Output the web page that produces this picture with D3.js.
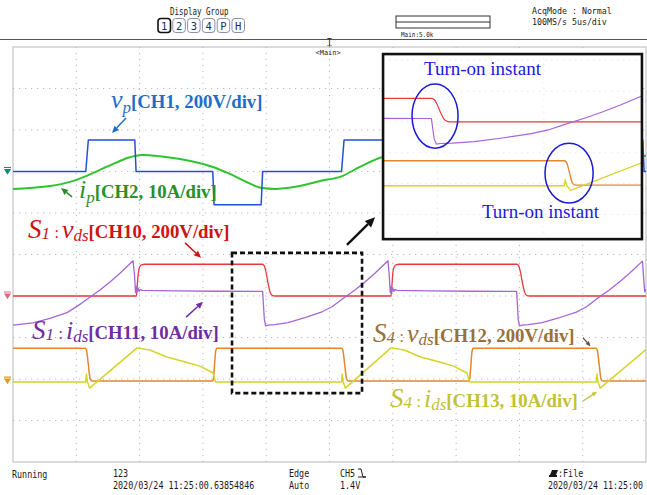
<!DOCTYPE html>
<html><head><meta charset="utf-8">
<script src="https://cdn.jsdelivr.net/npm/d3@7/dist/d3.min.js"></script>
<style>html,body{margin:0;padding:0;background:#fff;} svg{display:block;}</style>
</head><body>
<svg id="scope" width="647" height="495"></svg>
<script>
// ---- axis settings: 5 µs/div horizontally, 10 divisions vertically ----
const timeTicks = d3.range(0, 55, 5);          // µs
const divTicks = d3.range(-5, 6, 1);           // divisions

// ---- CH1 vp (V), 200 V/div ----
const vpTime = [0, 5.75, 5.95, 9.62, 9.72, 15.78, 15.88, 19.6, 19.72, 25.95, 26.15, 29.82, 29.92, 35.95, 36.05, 39.8, 39.92, 46.15, 46.35, 49.75, 49.85, 50];
const vpVolt = [0, 0, 152, 152, 0, 0, -160, -160, 0, 0, 152, 152, 0, 0, -160, -160, 0, 0, 152, 152, 0, 0];

// ---- CH2 ip (A), 10 A/div ----
const ipTime = [0, 1.34, 2.92, 4.5, 5.77, 6.87, 8.06, 9.08, 10.19, 11.6, 13.2, 14.77, 15.8, 17.0, 18.3, 19.67, 20.7, 22.3, 24.25, 26.0, 27.4, 29.2, 30.4, 32, 34, 36, 38, 39.9, 41, 43, 46.2, 48, 50];
const ipAmp  = [-4.2, -4.0, -3.5, -2.5, -1.1, 0.4, 2.0, 3.3, 4.0, 3.7, 3.0, 2.0, 1.1, -0.4, -2.3, -4.0, -4.2, -3.7, -2.3, -1.1, 1.1, 3.5, 4.0, 3.6, 2.9, 1.1, -2.0, -4.0, -4.2, -3.6, -1.1, 2.5, 3.8];

// ---- CH10 S1 vds (V), 200 V/div ----
const s1vTime = [0, 9.75, 9.8, 9.9, 10.0, 10.15, 10.4, 19.7, 19.85, 20.0, 20.15, 20.3, 20.5, 20.7, 29.85, 29.92, 30.0, 30.1, 30.25, 30.5, 39.8, 39.95, 40.1, 40.25, 40.4, 40.6, 40.8, 50];
const s1vVolt = [0, 0, 40, 110, 140, 150, 153, 153, 145, 110, 60, 20, 2, 0, 0, 40, 110, 140, 150, 153, 153, 145, 110, 60, 20, 2, 0, 0];

// ---- CH11 S1 ids (A), 10 A/div ----
const s1iTime = [0, 1.58, 2.92, 4.27, 5.06, 5.85, 6.87, 7.66, 8.45, 9.48, 9.6, 9.68, 9.74, 9.8, 9.88, 9.96, 10.05, 10.2, 13, 16, 19.72, 19.78, 19.85, 19.95, 20.14, 20.7, 21.72, 23.06, 24.41, 25.2, 25.99, 27.01, 27.8, 28.59, 29.62, 29.72, 29.8, 29.86, 29.92, 30.0, 30.08, 30.17, 30.3, 33, 36, 39.78, 39.84, 39.9, 40.0, 40.2, 40.7, 41.8, 43.1, 44.5, 45.3, 46.1, 47.1, 47.9, 48.7, 49.72, 49.82, 49.9, 50];
const s1iAmp  = [-7.0, -6.5, -5.4, -4.0, -2.5, -0.8, 1.45, 3.4, 5.5, 8.5, 5.0, 0.8, 2.3, 0.9, 1.9, 1.1, 1.6, 1.35, 1.25, 1.15, 1.1, -2.0, -5.5, -7.2, -7.0, -6.9, -6.4, -5.2, -3.8, -2.6, -0.8, 1.45, 3.4, 5.5, 8.5, 5.0, 0.8, 2.3, 0.9, 1.9, 1.1, 1.6, 1.35, 1.25, 1.15, 1.1, -2.0, -5.5, -7.2, -7.0, -6.9, -6.4, -5.3, -3.9, -2.6, -0.7, 1.45, 3.4, 5.5, 8.4, 4.0, 1.0, 1.6];

// ---- CH12 S4 vds (V), 200 V/div ----
const s4vTime = [0, 5.7, 5.8, 5.95, 6.1, 6.25, 15.8, 15.9, 16.0, 16.1, 25.95, 26.05, 26.2, 26.35, 26.5, 36.05, 36.15, 36.25, 36.35, 46.05, 46.15, 46.3, 46.45, 46.6, 50];
const s4vVolt = [158, 158, 150, 80, 10, 0, 0, 60, 140, 158, 158, 150, 80, 10, 0, 0, 60, 140, 158, 158, 150, 80, 10, 0, 0];

// ---- CH13 S4 ids (A), 10 A/div ----
const s4iTime = [0, 5.75, 5.8, 5.86, 6.05, 9.8, 10.8, 12.16, 13.6, 14.77, 15.8, 16.0, 25.95, 26.0, 26.06, 26.25, 29.86, 30.9, 32.2, 33.7, 34.8, 35.86, 36.06, 46.08, 46.13, 46.19, 46.38, 50];
const s4iAmp  = [-0.2, -0.2, 1.7, 0.0, -1.7, 8.0, 7.5, 5.8, 4.6, 3.6, 1.95, -0.2, -0.2, 1.7, 0.0, -1.7, 8.0, 7.5, 5.8, 4.6, 3.6, 1.95, -0.2, -0.2, 1.7, 0.0, -1.7, 7.6];

// ---- channel ground positions (div) ----
const groundDiv = {ch1: 2.0, ch10: -1.0, ch12: -3.05};

// ---- zoomed detail window ----
const zoomRegion = {t: [17.3, 27.57], div: [-3.34, 0.04]};
const insetView  = {t: [17.45, 29.6], div: [-4.8, 1.2]};
const insetBox   = {t: [29.23, 49.68], div: [0.37, 4.83]};

const svg = d3.select("#scope");
const W = 647;
const x = d3.scaleLinear().domain([0, 50]).range([13, 646]);
const y = d3.scaleLinear().domain([-5, 5]).range([462, 47]);

const traces = [
  {t: ipTime,  v: ipAmp,   perDiv: 10,  pos: groundDiv.ch1,  color: "#2fc42f", width: 2.0, curve: d3.curveMonotoneX},
  {t: vpTime,  v: vpVolt,  perDiv: 200, pos: groundDiv.ch1,  color: "#2350d8", width: 1.5, curve: d3.curveLinear},
  {t: s4vTime, v: s4vVolt, perDiv: 200, pos: groundDiv.ch12, color: "#e3862c", width: 1.5, curve: d3.curveMonotoneX},
  {t: s4iTime, v: s4iAmp,  perDiv: 10,  pos: groundDiv.ch12, color: "#d4d42a", width: 1.5, curve: d3.curveLinear},
  {t: s1vTime, v: s1vVolt, perDiv: 200, pos: groundDiv.ch10, color: "#e8383c", width: 1.3, curve: d3.curveMonotoneX},
  {t: s1iTime, v: s1iAmp,  perDiv: 10,  pos: groundDiv.ch10, color: "#a864d8", width: 1.3, curve: d3.curveLinear}
];

const defs = svg.append("defs");
defs.append("clipPath").attr("id", "plotClip").append("rect")
  .attr("x", x(0)).attr("y", y(5)).attr("width", x(50) - x(0)).attr("height", y(-5) - y(5));

function drawGrid(layer, xs, ys, color) {
  layer.selectAll("line.gv").data(timeTicks.slice(1, -1)).join("line").attr("class", "gv")
    .attr("x1", d => xs(d)).attr("x2", d => xs(d)).attr("y1", ys(-5)).attr("y2", ys(5))
    .attr("stroke", color).attr("stroke-width", 1).attr("stroke-dasharray", "1.2,4.8");
  layer.selectAll("line.gh").data(divTicks.slice(1, -1)).join("line").attr("class", "gh")
    .attr("x1", xs(0)).attr("x2", xs(50)).attr("y1", d => ys(d)).attr("y2", d => ys(d))
    .attr("stroke", color).attr("stroke-width", 1).attr("stroke-dasharray", "1.2,4.8");
}

function drawTraces(layer, xs, ys, widthScale) {
  traces.forEach(tr => {
    const pts = tr.t.map((t, i) => [t, tr.v[i]]);
    const line = d3.line().curve(tr.curve)
      .x(d => xs(d[0])).y(d => ys(tr.pos + d[1] / tr.perDiv));
    layer.append("path").attr("d", line(pts)).attr("fill", "none")
      .attr("stroke", tr.color).attr("stroke-width", tr.width * widthScale)
      .attr("stroke-linejoin", "round");
  });
}

// ---- header ----
// condensed monospace status text: glyphs are squeezed horizontally to the given cell width
const monoFont = "'DejaVu Sans Mono', monospace";
function monoText(str, px, py, size, cw, anchor) {
  const sx = cw / (0.602 * size);
  const g = svg.append("g").attr("transform", `translate(${px},${py}) scale(${sx},1)`);
  const t = g.append("text").attr("x", 0).attr("y", 0).attr("font-family", monoFont)
    .attr("font-size", size).attr("fill", "#1a1a1a").text(str);
  if (anchor) t.attr("text-anchor", anchor);
  return t;
}
monoText("Display Group", 170, 15, 10, 4.5);
const groupButtons = ["1", "2", "3", "4", "P", "H"];
groupButtons.forEach((b, i) => {
  const bx = 158 + i * 14.8;
  svg.append("rect").attr("x", bx).attr("y", 18.5).attr("width", 12.5).attr("height", 14).attr("rx", 3)
    .attr("fill", "#fff").attr("stroke", i === 0 ? "#111" : "#8a8fa8").attr("stroke-width", i === 0 ? 1.6 : 1);
  svg.append("text").attr("x", bx + 6.25).attr("y", 29.5).attr("text-anchor", "middle")
    .attr("font-family", monoFont).attr("font-size", 10.5).attr("fill", "#1c2a6a").text(b);
});
svg.append("rect").attr("x", 396).attr("y", 16).attr("width", 94).attr("height", 12).attr("fill", "none").attr("stroke", "#333").attr("stroke-width", 1);
svg.append("line").attr("x1", 396).attr("x2", 490).attr("y1", 22).attr("y2", 22).attr("stroke", "#333").attr("stroke-width", 1);
monoText("Main:5.0k", 401, 37, 7, 3.6);
monoText("AcqMode : Normal", 532, 14, 9, 5.0);
monoText("100MS/s   5us/div", 532, 25, 9, 5.0);
svg.append("line").attr("x1", 0).attr("x2", W).attr("y1", 39.5).attr("y2", 39.5).attr("stroke", "#555").attr("stroke-width", 1.2);
// trigger position marker
svg.append("text").attr("x", x(25)).attr("y", 45).attr("text-anchor", "middle").attr("font-family", monoFont)
  .attr("font-size", 8).attr("fill", "#222").text("T");
svg.append("path").attr("d", `M${x(25)},44 l0,3 M${x(25) - 2},45 l2,2 l2,-2`).attr("stroke", "#222").attr("fill", "none").attr("stroke-width", 0.8);

// ---- plot area ----
svg.append("rect").attr("x", x(0)).attr("y", y(5)).attr("width", x(50) - x(0)).attr("height", y(-5) - y(5))
  .attr("fill", "#fff").attr("stroke", "#cfcfcf").attr("stroke-width", 1.5);
drawGrid(svg.append("g"), x, y, "#b8b8b8");
monoText("<Main>", x(25) - 14, 55, 7, 4.2);

const traceLayer = svg.append("g").attr("clip-path", "url(#plotClip)");
drawTraces(traceLayer, x, y, 1);

// ground markers at the left edge
const markerColors = [["#1a8a6a", groundDiv.ch1], ["#e06a88", groundDiv.ch10], ["#d8a020", groundDiv.ch12]];
markerColors.forEach(([c, d]) => {
  const my = y(d);
  svg.append("path").attr("d", `M4,${my - 4} h7 M5,${my - 2} h5 l-2.5,4 z`).attr("stroke", c).attr("fill", c).attr("stroke-width", 1.2);
});

// ---- arrows and labels ----
function arrow(from, to, color, w, head) {
  const x1 = x(from[0]), y1 = y(from[1]), x2 = x(to[0]), y2 = y(to[1]);
  const a = Math.atan2(y2 - y1, x2 - x1);
  const hl = head, hw = head * 0.45;
  const bx = x2 - hl * Math.cos(a), by = y2 - hl * Math.sin(a);
  svg.append("line").attr("x1", x1).attr("y1", y1).attr("x2", bx).attr("y2", by)
    .attr("stroke", color).attr("stroke-width", w);
  svg.append("path").attr("d",
    `M${x2},${y2} L${bx + hw * Math.sin(a)},${by - hw * Math.cos(a)} L${bx - hw * Math.sin(a)},${by + hw * Math.cos(a)} Z`)
    .attr("fill", color);
}

const serif = "'Liberation Serif', 'Times New Roman', serif";
function richLabel(pos, parts, color) {
  const t = svg.append("text").attr("x", x(pos[0])).attr("y", y(pos[1])).attr("fill", color).attr("font-family", serif);
  parts.forEach(p => {
    const s = t.append("tspan").text(p.s).attr("font-size", p.size);
    if (p.it) s.attr("font-style", "italic");
    if (p.b) s.attr("font-weight", "bold");
    if (p.dy) s.attr("dy", p.dy);
    if (p.dx) s.attr("dx", p.dx);
  });
}
const tagSize = 18.8;
function switchLabel(pos, idx, sym, sub, tag, color) {
  richLabel(pos, [
    {s: "S", it: true, size: 27},
    {s: idx, it: true, size: 17, dy: 1},
    {s: ":", size: 16, dx: 4.5, dy: -1},
    {s: sym, it: true, size: 26, dx: 3},
    {s: sub, it: true, size: 17, dy: 3},
    {s: tag, b: true, size: tagSize, dy: -3}
  ], color);
}

richLabel([7.74, 3.53], [{s: "v", it: true, size: 26}, {s: "p", it: true, size: 17, dy: 4.5}, {s: "[CH1, 200V/div]", b: true, size: tagSize, dy: -4.5}], "#1e6ec8");
arrow([8.93, 3.29], [7.82, 2.93], "#1e6ec8", 1.5, 7);

richLabel([5.21, 1.36], [{s: "i", it: true, size: 26}, {s: "p", it: true, size: 17, dy: 4.5}, {s: "[CH2, 10A/div]", b: true, size: tagSize, dy: -4.5}], "#2a8f2a");
arrow([4.66, 1.39], [3.79, 1.60], "#2a8f2a", 1.5, 7);

switchLabel([1.18, 0.40], "1", "v", "ds", "[CH10, 200V/div]", "#d01212");
arrow([13.59, 0.28], [14.85, -0.08], "#d01212", 1.5, 7);

switchLabel([1.50, -2.04], "1", "i", "ds", "[CH11, 10A/div]", "#6f2da0");
arrow([13.67, -1.51], [15.01, -1.14], "#6f2da0", 1.5, 7);

switchLabel([28.44, -2.11], "4", "v", "ds", "[CH12, 200V/div]", "#98703a");
arrow([45.02, -2.01], [45.62, -2.21], "#5e5040", 1.2, 5);

switchLabel([29.78, -3.67], "4", "i", "ds", "[CH13, 10A/div]", "#c2c234");
arrow([45.02, -3.53], [46.13, -3.31], "#c2c234", 1.3, 5);

// ---- marked region and detail inset ----
svg.append("rect")
  .attr("x", x(zoomRegion.t[0])).attr("y", y(zoomRegion.div[1]))
  .attr("width", x(zoomRegion.t[1]) - x(zoomRegion.t[0])).attr("height", y(zoomRegion.div[0]) - y(zoomRegion.div[1]))
  .attr("fill", "none").attr("stroke", "#111").attr("stroke-width", 2.6).attr("stroke-dasharray", "5,3");
arrow([26.38, 0.23], [28.6, 0.90], "#111", 2.4, 10);

const ix = d3.scaleLinear().domain(insetView.t).range([x(insetBox.t[0]), x(insetBox.t[1])]);
const iy = d3.scaleLinear().domain(insetView.div).range([y(insetBox.div[0]), y(insetBox.div[1])]);
const bx0 = x(insetBox.t[0]), bx1 = x(insetBox.t[1]), by0 = y(insetBox.div[1]), by1 = y(insetBox.div[0]);
defs.append("clipPath").attr("id", "insetClip").append("rect").attr("x", bx0).attr("y", by0).attr("width", bx1 - bx0).attr("height", by1 - by0);
svg.append("rect").attr("x", bx0).attr("y", by0).attr("width", bx1 - bx0).attr("height", by1 - by0).attr("fill", "#fff");
const inset = svg.append("g").attr("clip-path", "url(#insetClip)");
drawGrid(inset, ix, iy, "#e2e2e2");
drawTraces(inset, ix, iy, 0.9);
svg.append("rect").attr("x", bx0).attr("y", by0).attr("width", bx1 - bx0).attr("height", by1 - by0)
  .attr("fill", "none").attr("stroke", "#111").attr("stroke-width", 2.6);

const turnOnMarks = [{t: 19.89, div: -0.81, rt: 1.08, rd: 1.04}, {t: 26.18, div: -2.66, rt: 1.13, rd: 0.97}];
turnOnMarks.forEach(m => {
  svg.append("ellipse").attr("cx", ix(m.t)).attr("cy", iy(m.div))
    .attr("rx", ix(m.t + m.rt) - ix(m.t)).attr("ry", iy(m.div - m.rd) - iy(m.div))
    .attr("fill", "none").attr("stroke", "#1a1ad8").attr("stroke-width", 1.5);
});
const turnOnText = [[19.37, 0.52], [22.09, -4.12]];
turnOnText.forEach(p => {
  svg.append("text").attr("x", ix(p[0])).attr("y", iy(p[1])).attr("font-family", serif)
    .attr("font-size", 19).attr("fill", "#1a1ae0").text("Turn-on instant");
});

// ---- footer ----
monoText("Running", 12, 478, 10, 5.05);
monoText("123", 113, 477, 10, 5.05);
monoText("2020/03/24 11:25:00.63854846", 113, 489, 10, 5.05);
monoText("Edge", 289, 477, 10, 5.05);
monoText("Auto", 289, 489, 10, 5.05);
monoText("CH5", 340, 477, 10, 5.05);
svg.append("path").attr("d", "M358,469 h3 l2,8 h3 M358,477 h8").attr("stroke", "#1a1a1a").attr("fill", "none").attr("stroke-width", 1);
monoText("1.4V", 340, 489, 10, 5.05);
svg.append("path").attr("d", "M550,475 l2,-5 h6 l-2,5 z").attr("fill", "#1a1a1a");
svg.append("rect").attr("x", 549).attr("y", 475).attr("width", 8).attr("height", 2).attr("fill", "#1a1a1a");
monoText(":File", 558, 477, 10, 5.05);
monoText("2020/03/24 11:25:00", 548, 489, 10, 5.0);
</script></body></html>
